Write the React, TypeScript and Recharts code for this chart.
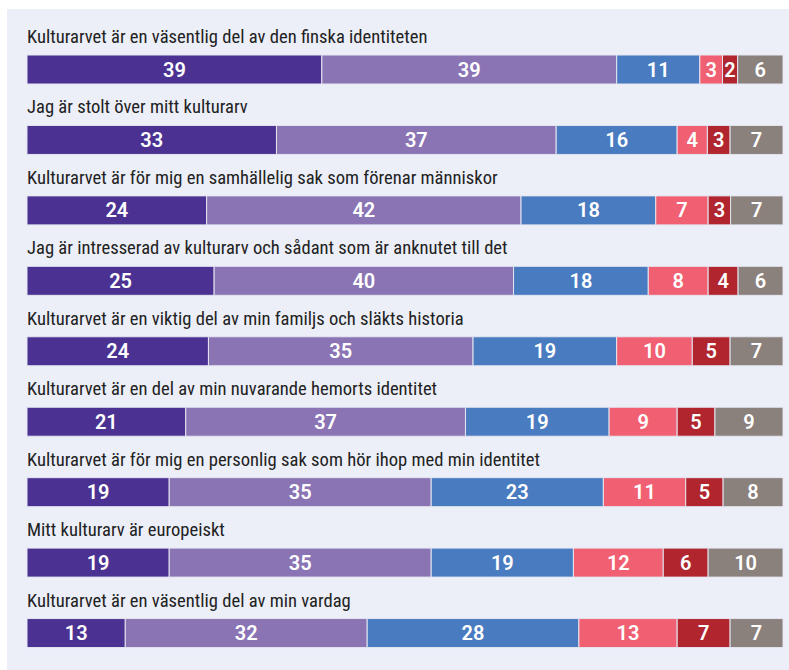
import { BarChart, Bar, XAxis, YAxis, LabelList } from 'recharts';

const titles = [
  'Kulturarvet är en väsentlig del av den finska identiteten',
  'Jag är stolt över mitt kulturarv',
  'Kulturarvet är för mig en samhällelig sak som förenar människor',
  'Jag är intresserad av kulturarv och sådant som är anknutet till det',
  'Kulturarvet är en viktig del av min familjs och släkts historia',
  'Kulturarvet är en del av min nuvarande hemorts identitet',
  'Kulturarvet är för mig en personlig sak som hör ihop med min identitet',
  'Mitt kulturarv är europeiskt',
  'Kulturarvet är en väsentlig del av min vardag',
];

const s1 = [39, 33, 24, 25, 24, 21, 19, 19, 13];
const s2 = [39, 37, 42, 40, 35, 37, 35, 35, 32];
const s3 = [11, 16, 18, 18, 19, 19, 23, 19, 28];
const s4 = [3, 4, 7, 8, 10, 9, 11, 12, 13];
const s5 = [2, 3, 3, 4, 5, 5, 5, 6, 7];
const s6 = [6, 7, 7, 6, 7, 9, 8, 10, 7];

const seriesKeys = ['s1', 's2', 's3', 's4', 's5', 's6'];
const colors = ['#4b3292', '#8a74b4', '#487bc0', '#f06072', '#b0252e', '#8a807c'];

const data = titles.map((title, i) => ({
  title,
  s1: s1[i],
  s2: s2[i],
  s3: s3[i],
  s4: s4[i],
  s5: s5[i],
  s6: s6[i],
}));

const renderTitle = (props: any) => {
  const { x, y, value } = props;
  return (
    <text x={x} y={y - 12} textAnchor="start" fill="#222" fontSize={18.6} fontFamily="Roboto" fontStretch="condensed">
      {value}
    </text>
  );
};

export default function App() {
  return (
    <div style={{ position: 'absolute', left: 7, top: 9, width: 782, height: 661, background: '#eceff8' }}>
      <BarChart
        width={782}
        height={661}
        data={data}
        layout="vertical"
        stackOffset="expand"
        margin={{ top: 25, right: 6, bottom: 2, left: 20 }}
      >
        <XAxis type="number" hide domain={[0, 1]} />
        <YAxis type="category" dataKey="title" hide />
        {seriesKeys.map((k, i) => (
          <Bar key={k} dataKey={k} stackId="a" fill={colors[i]} stroke="#e4e5f0" strokeWidth={1} barSize={29} isAnimationActive={false}>
            <LabelList
              dataKey={k}
              position="center"
              fill="#fff"
              fontSize={20}
              fontWeight={600}
              fontFamily="Roboto"
            />
            {i === 0 && <LabelList dataKey="title" content={renderTitle} />}
          </Bar>
        ))}
      </BarChart>
    </div>
  );
}
